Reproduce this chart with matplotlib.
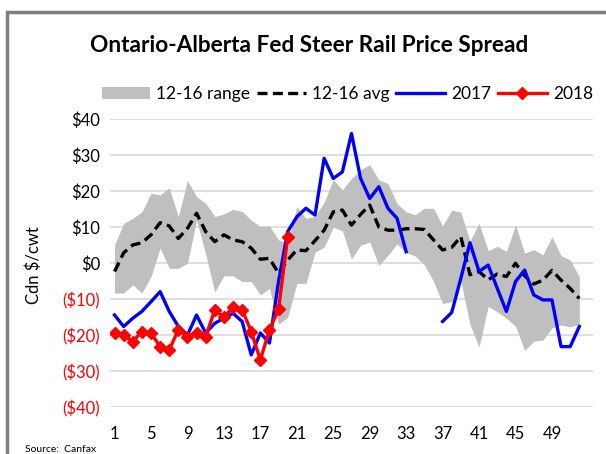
import numpy as np
import matplotlib.pyplot as plt
from matplotlib.patches import Rectangle
from matplotlib.lines import Line2D

plt.rcParams['font.family'] = ['Lato', 'DejaVu Sans']

weeks = np.arange(1, 53)

# 2012-2016 range (top / bottom) and average
range_hi = [5.1, 11.1, 12.5, 14.3, 19.5, 19.0, 21.0, 13.0, 23.0, 18.5, 16.7, 13.0, 13.7,
            15.0, 14.4, 12.0, 10.2, 10.4, 6.5, 5.6, 15.7, 12.5, 13.0, 17.0, 23.2, 20.4,
            23.6, 26.0, 27.4, 23.2, 22.2, 16.6, 14.3, 13.5, 15.3, 15.3, 10.4, 14.8, 14.2,
            6.2, 11.1, 3.5, 4.7, 3.3, 10.7, 2.8, 3.8, 2.3, 7.4, 2.1, 0.9, -3.7]
range_lo = [-8.3, -8.3, -6.0, -8.3, -3.7, 4.2, -1.4, -1.4, 0.0, 12.0, 2.5, -8.0, -3.5,
            -3.5, -5.1, -5.1, -8.8, -7.0, -17.0, -15.0, -5.6, -5.6, 3.1, 4.5, 10.0, 9.0,
            1.2, 5.0, 5.9, -0.6, 2.2, 5.4, 3.0, 2.0, -0.5, -5.0, -11.2, -10.7, -5.0,
            -17.0, -23.3, -12.0, -13.5, -15.3, -17.5, -24.2, -21.7, -21.4, -18.0, -17.2,
            -17.7, -17.0]
avg = [-2.3, 2.9, 5.1, 5.7, 7.9, 11.3, 10.4, 6.9, 9.7, 13.9, 8.8, 6.0, 7.9, 6.5, 6.0,
       4.2, 1.1, 1.4, -2.8, 0.9, 3.7, 3.5, 6.3, 9.2, 14.3, 14.8, 10.6, 13.6, 16.2, 10.1,
       9.2, 9.2, 9.6, 9.6, 9.4, 6.5, 3.7, 4.4, 7.4, -3.2, -2.3, -4.6, -3.0, -3.7, 0.0,
       -3.5, -5.8, -4.7, -2.0, -4.7, -7.0, -9.8]
y2017 = [-14.4, -17.6, -15.3, -13.4, -10.7, -7.9, -13.4, -17.6, -20.0, -14.4, -19.4,
         -16.7, -15.3, -13.9, -16.2, -25.5, -19.4, -22.2, -5.0, 8.8, 12.9, 15.3, 13.4,
         29.2, 23.6, 25.4, 36.1, 23.6, 18.0, 21.3, 15.3, 12.5, 3.2, np.nan, np.nan,
         np.nan, -16.2, -13.7, -4.2, 5.7, -2.3, -0.5, -7.0, -13.4, -5.1, -1.9, -8.8,
         -10.2, -10.2, -23.2, -23.2, -17.6]
y2018 = [-19.4, -19.9, -21.8, -19.0, -19.4, -23.2, -24.1, -18.5, -20.4, -19.3, -20.4,
         -13.0, -15.0, -12.2, -12.9, -19.0, -26.9, -18.5, -12.8, 7.4]

yticks = [40, 30, 20, 10, 0, -10, -20, -30, -40]
ytick_labels = ['$40', '$30', '$20', '$10', '$0', '($10)', '($20)', '($30)', '($40)']
xticks = list(range(1, 50, 4))

fig = plt.figure(figsize=(6.06, 4.54), dpi=100)
ax = fig.add_axes([0.1815, 0.1035, 0.797, 0.6333])

dash = (3.0, 1.6)
ax.fill_between(weeks, range_lo, range_hi, color='#bfbfbf', linewidth=0, zorder=1)
ax.plot(weeks, avg, color='black', lw=2.4, dashes=dash, zorder=2)
ax.plot(weeks, y2017, color='#0000ff', lw=2.4, zorder=3)
ax.plot(np.arange(1, len(y2018) + 1), y2018, color='#ff0000', lw=2.4,
        marker='D', markersize=6, zorder=4)

ax.set_xlim(0.5, 53.5)
ax.set_ylim(-40, 40)
ax.set_yticks(yticks)
ax.set_yticklabels(ytick_labels)
for lab, v in zip(ax.get_yticklabels(), yticks):
    lab.set_color('#ff0000' if v < 0 else 'black')
ax.set_xticks(xticks)
ax.tick_params(axis='both', length=0, labelsize=12)
ax.tick_params(axis='x', pad=14)
ax.tick_params(axis='y', pad=7)
ax.grid(axis='y', color='#d9d9d9', lw=1.2, zorder=0)
ax.set_axisbelow(True)
for s in ax.spines.values():
    s.set_visible(False)

fig.text(0.51, 0.899, 'Ontario-Alberta Fed Steer Rail Price Spread', ha='center',
         va='center', fontsize=16.3, fontweight='bold')
fig.text(0.055, 0.416, 'Cdn $/cwt', rotation=90, ha='center', va='center', fontsize=12)
fig.text(0.041, 0.011, 'Source:  Canfax', ha='left', va='center', fontsize=7.5)

handles = [Rectangle((0, 0), 1, 1, color='#bfbfbf', lw=0),
           Line2D([], [], color='black', lw=2.4, dashes=dash),
           Line2D([], [], color='#0000ff', lw=2.4),
           Line2D([], [], color='#ff0000', lw=2.4, marker='D', markersize=6)]
fig.legend(handles, ['12-16 range', '12-16 avg', '2017', '2018'], loc='center',
           bbox_to_anchor=(0.573, 0.793), ncol=4, frameon=False, fontsize=12.5,
           handlelength=2.8, handletextpad=0.35, columnspacing=0.4)

fig.patches.append(Rectangle((7 / 606, -0.1), 1.2, 1 - 12 / 454 + 0.1, transform=fig.transFigure,
                             fill=False, edgecolor='#7f7f7f', lw=2.5))

fig.savefig('out.png', dpi=100)
